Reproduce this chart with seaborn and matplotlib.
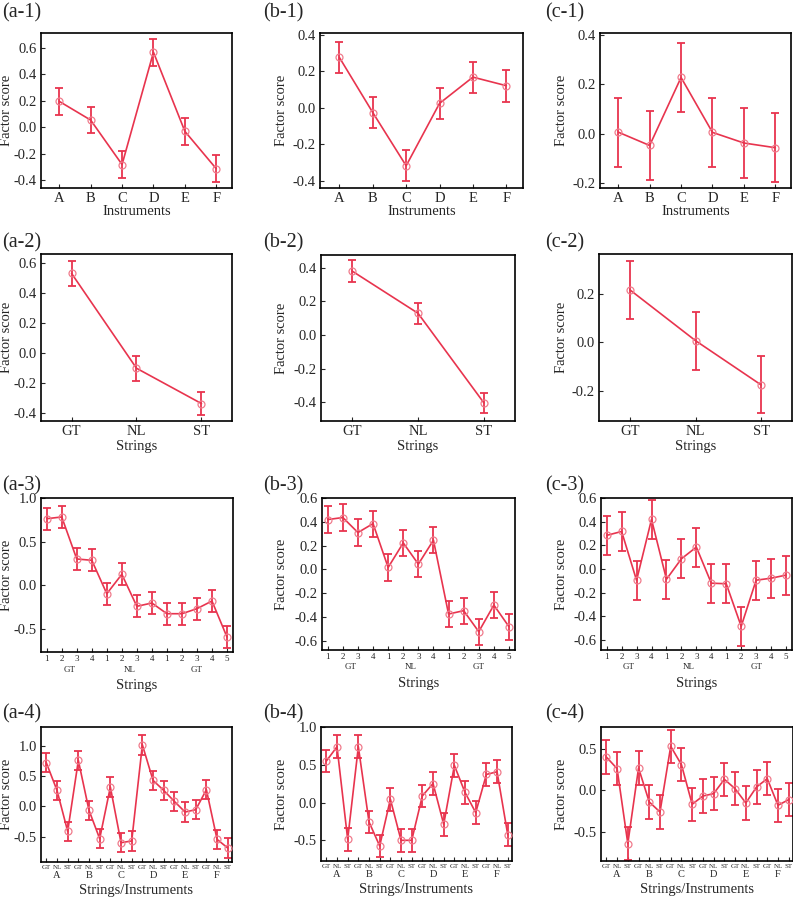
import numpy as np
import pandas as pd
import matplotlib
matplotlib.use("Agg")
import matplotlib.pyplot as plt
import seaborn as sns

# --- data ---
instruments = ["A", "B", "C", "D", "E", "F"]
strings = ["GT", "NL", "ST"]
string_nums = ["1", "2", "3", "4", "1", "2", "3", "4", "1", "2", "3", "4", "5"]
string_groups = ["GT", "NL", "GT"]
string_group_sizes = [4, 4, 5]
combo_ticks = strings * 6

a1 = [0.196, 0.055, -0.280, 0.566, -0.030, -0.312]
a1_err = [0.10, 0.10, 0.10, 0.10, 0.10, 0.10]
b1 = [0.276, -0.026, -0.318, 0.024, 0.168, 0.121]
b1_err = [0.085, 0.085, 0.085, 0.085, 0.085, 0.087]
c1 = [0.006, -0.048, 0.227, 0.005, -0.038, -0.057]
c1_err = [0.14, 0.14, 0.14, 0.14, 0.14, 0.14]

a2 = [0.531, -0.100, -0.335]
a2_err = [0.083, 0.083, 0.078]
b2 = [0.380, 0.129, -0.404]
b2_err = [0.063, 0.063, 0.057]
c2 = [0.216, 0.006, -0.177]
c2_err = [0.12, 0.12, 0.118]

a3 = [0.762, 0.782, 0.299, 0.284, -0.100, 0.123, -0.245, -0.207, -0.330, -0.330,
      -0.272, -0.184, -0.598]
a3_err = [0.125] * 13
b3 = [0.419, 0.436, 0.310, 0.385, 0.017, 0.223, 0.045, 0.246, -0.374, -0.346,
      -0.522, -0.299, -0.480]
b3_err = [0.11] * 13
c3 = [0.284, 0.317, -0.096, 0.419, -0.087, 0.086, 0.185, -0.120, -0.125, -0.485,
      -0.095, -0.078, -0.052]
c3_err = [0.165] * 13

a4 = [0.720, 0.264, -0.412, 0.758, -0.066, -0.533, 0.319, -0.599, -0.571,
      1.016, 0.429, 0.264, 0.082, -0.093, -0.055, 0.275, -0.544, -0.687]
a4_err = [0.16] * 18
b4 = [0.549, 0.739, -0.487, 0.739, -0.257, -0.575, 0.044, -0.500, -0.500,
      0.088, 0.252, -0.288, 0.491, 0.133, -0.133, 0.372, 0.407, -0.425]
b4_err = [0.15] * 18
c4 = [0.403, 0.262, -0.645, 0.270, -0.141, -0.262, 0.532, 0.310, -0.169,
      -0.069, -0.040, 0.133, 0.020, -0.153, 0.040, 0.141, -0.181, -0.113]
c4_err = [0.20] * 18

sns.set_style("ticks")
plt.rcParams["font.family"] = ["Liberation Serif", "DejaVu Serif"]
plt.rcParams["axes.unicode_minus"] = False

LINE = "#E8344E"
MARK = "#F07B8C"

W, H = 793, 897
fig = plt.figure(figsize=(W / 100, H / 100), dpi=100)

# right edge (px) of the rotated y label for columns a, b, c
ylabel_right = [13, 288, 568]


def box(l, t, r, b):
    return [l / W, 1 - b / H, (r - l) / W, (b - t) / H]


def draw(rect, vals, errs, ylim, yticks, xlim, col):
    ax = fig.add_axes(box(*rect))
    df = pd.DataFrame({"pos": np.arange(len(vals)), "score": vals, "err": errs})
    ax.errorbar(df["pos"], df["score"], yerr=df["err"], fmt="none",
                ecolor=LINE, elinewidth=1.3, capsize=2.8, capthick=1.3, zorder=2)
    sns.lineplot(data=df, x="pos", y="score", ax=ax, color=LINE, linewidth=1.2,
                 marker="o", markersize=5, markerfacecolor="none",
                 markeredgecolor=MARK, markeredgewidth=0.9, zorder=3)
    ax.set_ylim(*ylim)
    ax.set_yticks(yticks)
    ax.set_yticklabels([f"{v:.1f}" for v in yticks])
    ax.set_xlim(*xlim)
    ax.set_xticks(df["pos"])
    ax.tick_params(direction="in", length=3, width=0.8, labelsize=10.5, pad=3)
    for s in ax.spines.values():
        s.set_linewidth(1.2)
        s.set_color("black")
    ax.set_ylabel("Factor score", fontsize=10.5)
    l, r = rect[0], rect[2]
    ax.yaxis.set_label_coords((ylabel_right[col] - l) / (r - l), 0.5)
    return ax


# row 1: instruments
rows1 = [((41, 33, 232, 188), a1, a1_err, (-0.457, 0.711), np.arange(-0.4, 0.61, 0.2)),
         ((320, 33, 523, 188), b1, b1_err, (-0.44, 0.41), np.arange(-0.4, 0.41, 0.2)),
         ((600, 33, 791, 188), c1, c1_err, (-0.22, 0.407), np.arange(-0.2, 0.41, 0.2))]
for k, (rect, v, e, yl, yt) in enumerate(rows1):
    ax = draw(rect, v, e, yl, yt, (-0.58, 5.5), k)
    ax.set_xticklabels(instruments)
    ax.set_xlabel("Instruments", fontsize=10.5, labelpad=0)

# row 2: strings
rows2 = [((41, 254, 232, 421), a2, a2_err, (-0.451, 0.66), np.arange(-0.4, 0.61, 0.2)),
         ((321, 255, 515, 421), b2, b2_err, (-0.511, 0.475), np.arange(-0.4, 0.41, 0.2)),
         ((599, 254, 792, 421), c2, c2_err, (-0.326, 0.364), np.arange(-0.2, 0.21, 0.2))]
for k, (rect, v, e, yl, yt) in enumerate(rows2):
    ax = draw(rect, v, e, yl, yt, (-0.47, 2.47), k)
    ax.set_xticklabels(strings)
    ax.set_xlabel("Strings", fontsize=10.5, labelpad=1)

# row 3: individual strings
rows3 = [((41, 498, 233, 652), a3, a3_err, (-0.77, 1.0), np.arange(-0.5, 1.01, 0.5)),
         ((322, 498, 515, 650), b3, b3_err, (-0.676, 0.6), np.arange(-0.6, 0.61, 0.2)),
         ((601, 498, 792, 650), c3, c3_err, (-0.685, 0.6), np.arange(-0.6, 0.61, 0.2))]
group_centers = np.cumsum([0] + string_group_sizes[:-1]) + (np.array(string_group_sizes) - 1) / 2
for k, (rect, v, e, yl, yt) in enumerate(rows3):
    ax = draw(rect, v, e, yl, yt, (-0.38, 12.4), k)
    ax.set_xticklabels(string_nums, fontsize=6.5)
    ax.tick_params(axis="x", pad=2)
    for c, g in zip(group_centers, string_groups):
        ax.text(c, -0.115, g, fontsize=6.5, ha="center", va="center",
                transform=ax.get_xaxis_transform())
    ax.set_xlabel("Strings", fontsize=10.5, labelpad=12)

# row 4: strings within instruments
rows4 = [((41, 727, 232, 862), a4, a4_err, (-0.918, 1.31), np.arange(-0.5, 1.01, 0.5)),
         ((321, 727, 512, 861), b4, b4_err, (-0.774, 1.0), np.arange(-0.5, 1.01, 0.5)),
         ((601, 727, 793, 861), c4, c4_err, (-0.855, 0.766), np.arange(-0.5, 0.51, 0.5))]
for k, (rect, v, e, yl, yt) in enumerate(rows4):
    ax = draw(rect, v, e, yl, yt, (-0.5, 17.4), k)
    ax.set_xticklabels(combo_ticks, fontsize=5)
    ax.tick_params(axis="x", pad=2)
    for i, g in enumerate(instruments):
        ax.text(i * 3 + 1, -0.1, g, fontsize=7.5, ha="center", va="center",
                transform=ax.get_xaxis_transform())
    ax.set_xlabel("Strings/Instruments", fontsize=10.5, labelpad=10)

# panel labels
label_x = [2, 263, 545]
label_top = [3, 233, 476, 704]
for r, top in enumerate(label_top):
    for c, col in enumerate("abc"):
        fig.text(label_x[c] / W, 1 - top / H, f"({col}-{r + 1})", fontsize=14.5,
                 ha="left", va="top")

fig.savefig("out.png", dpi=100)
